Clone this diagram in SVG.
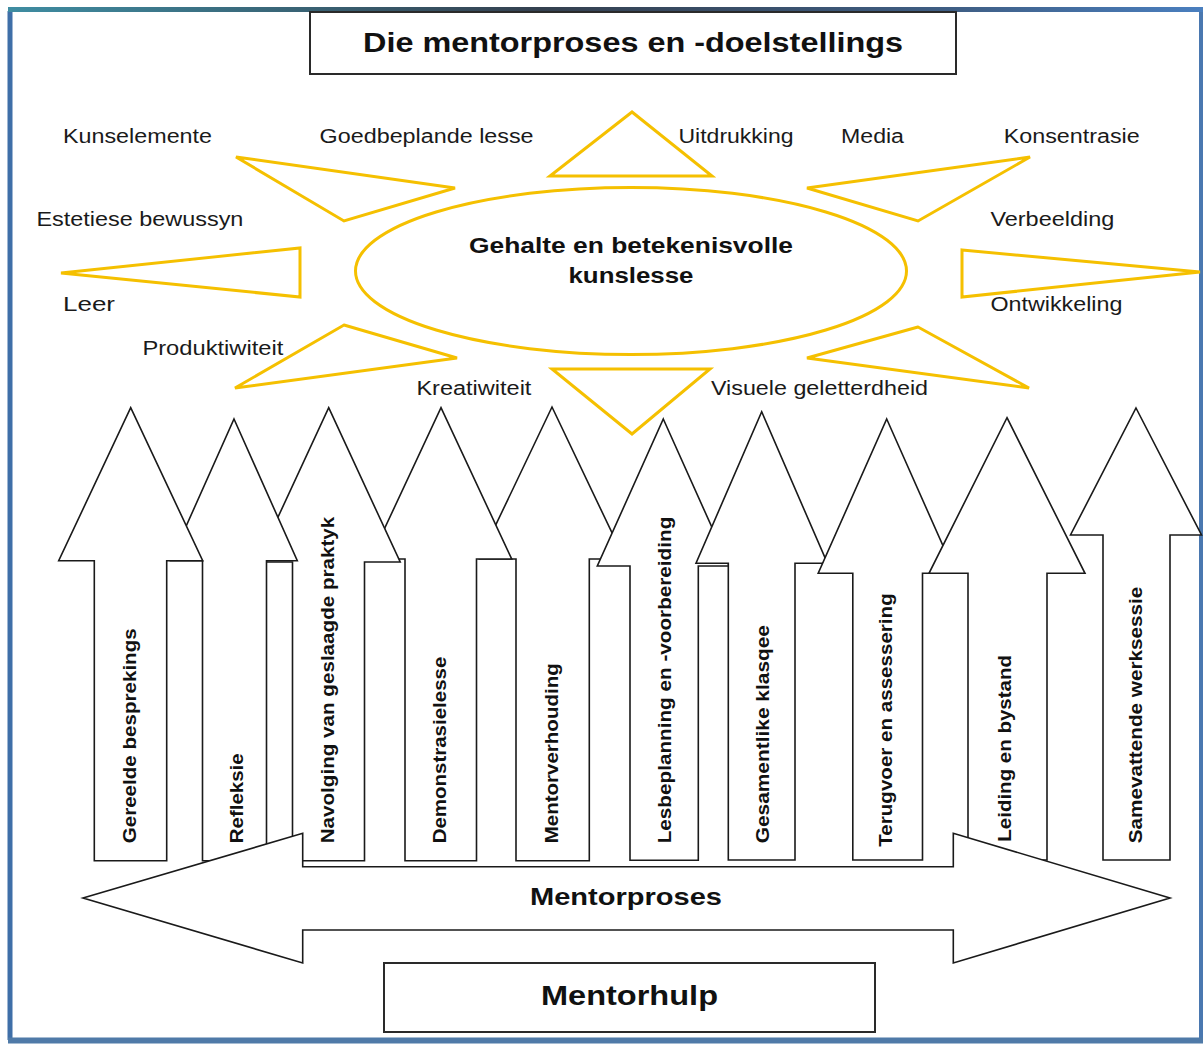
<svg xmlns="http://www.w3.org/2000/svg" width="1203" height="1044" viewBox="0 0 1203 1044">
<defs>
<linearGradient id="topg" gradientUnits="userSpaceOnUse" x1="0" y1="0" x2="1203" y2="0">
<stop offset="0" stop-color="#3f8ea3"/>
<stop offset="0.45" stop-color="#34404f"/>
<stop offset="0.8" stop-color="#3f5f86"/>
<stop offset="1" stop-color="#4a7fbf"/>
</linearGradient>
<style>
.ray{fill:none;stroke:#F5C000;stroke-width:3;stroke-linejoin:miter}
.blk{fill:#fff;stroke:#1a1a1a;stroke-width:1.6;stroke-linejoin:miter}
.box{fill:#fff;stroke:#2a2a2a;stroke-width:2}
.lbl{font-family:"Liberation Sans",Arial,sans-serif;font-size:20px;fill:#1a1a1a}
.bt{font-family:"Liberation Sans",Arial,sans-serif;font-weight:bold;fill:#111}
.vt{font-family:"Liberation Sans",Arial,sans-serif;font-weight:bold;font-size:18px;fill:#111}
</style>
</defs>
<rect x="0" y="0" width="1203" height="1044" fill="#fff"/>
<g id="frame">
<line x1="10" y1="11" x2="10" y2="1040" stroke="#3f6fa8" stroke-width="5"/>
<line x1="1201" y1="10" x2="1201" y2="1040" stroke="#4a78b0" stroke-width="4"/>
<line x1="8" y1="1040.5" x2="1203" y2="1040.5" stroke="#4f7aa8" stroke-width="6"/>
<rect x="8" y="7" width="1195" height="5" fill="url(#topg)"/>
</g>
<g id="title">
<rect class="box" x="310" y="12" width="646" height="62"/>
<text class="bt" x="633" y="52" font-size="28" text-anchor="middle" textLength="540" lengthAdjust="spacingAndGlyphs">Die mentorproses en -doelstellings</text>
</g>
<g id="rays">
<polygon class="ray" points="236,157 455,188 344,221"/>
<polygon class="ray" points="61,273 300,248 300,297"/>
<polygon class="ray" points="344,325 457,358 235,388"/>
<polygon class="ray" points="632,112 550,176 712,176"/>
<polygon class="ray" points="552,369 710,369 632,434"/>
<polygon class="ray" points="1030,157 807,188 918,221"/>
<polygon class="ray" points="962,250 1200,272 962,297"/>
<polygon class="ray" points="918,327 807,358 1029,388"/>
</g>
<g id="sun">
<ellipse cx="631" cy="271" rx="275.5" ry="83.5" fill="#fff" stroke="#F5C000" stroke-width="3"/>
<text class="bt" x="631" y="253" font-size="22" text-anchor="middle" textLength="324" lengthAdjust="spacingAndGlyphs">Gehalte en betekenisvolle</text>
<text class="bt" x="631" y="283" font-size="22" text-anchor="middle" textLength="125" lengthAdjust="spacingAndGlyphs">kunslesse</text>
</g>
<g id="labels">
<text class="lbl" x="63" y="143" textLength="149" lengthAdjust="spacingAndGlyphs">Kunselemente</text>
<text class="lbl" x="319.6" y="143" textLength="214" lengthAdjust="spacingAndGlyphs">Goedbeplande lesse</text>
<text class="lbl" x="678.5" y="143" textLength="115" lengthAdjust="spacingAndGlyphs">Uitdrukking</text>
<text class="lbl" x="841" y="143" textLength="63" lengthAdjust="spacingAndGlyphs">Media</text>
<text class="lbl" x="1003.7" y="143" textLength="136" lengthAdjust="spacingAndGlyphs">Konsentrasie</text>
<text class="lbl" x="36.4" y="226" textLength="207" lengthAdjust="spacingAndGlyphs">Estetiese bewussyn</text>
<text class="lbl" x="990.4" y="226" textLength="124" lengthAdjust="spacingAndGlyphs">Verbeelding</text>
<text class="lbl" x="63" y="311" font-size="23" textLength="52" lengthAdjust="spacingAndGlyphs">Leer</text>
<text class="lbl" x="990.4" y="311" textLength="132" lengthAdjust="spacingAndGlyphs">Ontwikkeling</text>
<text class="lbl" x="142.4" y="355" textLength="141" lengthAdjust="spacingAndGlyphs">Produktiwiteit</text>
<text class="lbl" x="416.4" y="395" textLength="115" lengthAdjust="spacingAndGlyphs">Kreatiwiteit</text>
<text class="lbl" x="711" y="395" textLength="217" lengthAdjust="spacingAndGlyphs">Visuele geletterdheid</text>
</g>
<g id="arrow5">
<polygon class="blk" points="552,407 624.5,559 589.3,559 589.3,860.7 516,860.7 516,559 479.5,559"/>
<text class="vt" transform="translate(557.7,843.3) rotate(-90)" textLength="180" lengthAdjust="spacingAndGlyphs">Mentorverhouding</text>
</g>
<g id="arrow4">
<polygon class="blk" points="441,407.7 511.7,559 476.5,559 476.5,860.7 405,860.7 405,559 370.3,559"/>
<text class="vt" transform="translate(445.6,843.3) rotate(-90)" textLength="186.6" lengthAdjust="spacingAndGlyphs">Demonstrasielesse</text>
</g>
<g id="arrow3">
<polygon class="blk" points="328.7,407.7 400.2,562 364.5,562 364.5,860.7 292.5,860.7 292.5,562 257.2,562"/>
<text class="vt" transform="translate(333.8,843.3) rotate(-90)" textLength="326.6" lengthAdjust="spacingAndGlyphs">Navolging van geslaagde praktyk</text>
</g>
<g id="arrow2">
<polygon class="blk" points="234,419 297.3,560.7 266.5,560.7 266.5,860.7 202.5,860.7 202.5,560.7 170.7,560.7"/>
<text class="vt" transform="translate(242.8,843.3) rotate(-90)" textLength="90" lengthAdjust="spacingAndGlyphs">Refleksie</text>
</g>
<g id="arrow1">
<polygon class="blk" points="130.7,407.7 202.7,560.7 166.7,560.7 166.7,860.7 94.3,860.7 94.3,560.7 58.7,560.7"/>
<text class="vt" transform="translate(136.3,843.3) rotate(-90)" textLength="215" lengthAdjust="spacingAndGlyphs">Gereelde besprekings</text>
</g>
<g id="arrow6">
<polygon class="blk" points="663.3,419 729.3,566 698.3,566 698.3,860.3 630,860.3 630,566 597.3,566"/>
<text class="vt" transform="translate(671,843.3) rotate(-90)" textLength="326.6" lengthAdjust="spacingAndGlyphs">Lesbeplanning en -voorbereiding</text>
</g>
<g id="arrow7">
<polygon class="blk" points="761.7,411.7 827.4,563.3 795,563.3 795,860 728.3,860 728.3,563.3 696,563.3"/>
<text class="vt" transform="translate(769,843.3) rotate(-90)" textLength="218.3" lengthAdjust="spacingAndGlyphs">Gesamentlike klasqee</text>
</g>
<g id="arrow8">
<polygon class="blk" points="886.7,419 955.2,573.3 922.5,573.3 922.5,860 852.8,860 852.8,573.3 818.2,573.3"/>
<text class="vt" transform="translate(892,846.7) rotate(-90)" textLength="253.4" lengthAdjust="spacingAndGlyphs">Terugvoer en assessering</text>
</g>
<g id="arrow9">
<polygon class="blk" points="1007,417.7 1085,573.3 1047,573.3 1047,860 968,860 968,573.3 929,573.3"/>
<text class="vt" transform="translate(1011,841.7) rotate(-90)" textLength="186.7" lengthAdjust="spacingAndGlyphs">Leiding en bystand</text>
</g>
<g id="arrow10">
<polygon class="blk" points="1136,408 1201.5,535 1170,535 1170,860 1103,860 1103,535 1070.5,535"/>
<text class="vt" transform="translate(1142,843.3) rotate(-90)" textLength="256.6" lengthAdjust="spacingAndGlyphs">Samevattende werksessie</text>
</g>
<g id="connectors"></g>
<g id="mentorproses">
<polygon class="blk" points="83,898 302.7,833.3 302.7,866.7 953.3,866.7 953.3,833.3 1170,898 953.3,963 953.3,930 302.7,930 302.7,963"/>
<text class="bt" x="626" y="905" font-size="24" text-anchor="middle" textLength="192" lengthAdjust="spacingAndGlyphs">Mentorproses</text>
</g>
<g id="mentorhulp">
<rect class="box" x="384" y="963" width="491" height="69"/>
<text class="bt" x="629.5" y="1005" font-size="28" text-anchor="middle" textLength="177" lengthAdjust="spacingAndGlyphs">Mentorhulp</text>
</g>
</svg>
